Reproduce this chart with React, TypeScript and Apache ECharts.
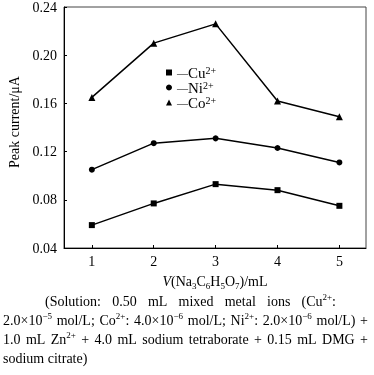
import React, { useEffect, useRef } from "react";
import * as echarts from "echarts";

const FONT = '"Liberation Serif", "Times New Roman", serif';

const xValues = [1, 2, 3, 4, 5];
const cuValues = [0.059, 0.077, 0.093, 0.088, 0.075];
const niValues = [0.105, 0.127, 0.131, 0.123, 0.111];
const coValues = [0.165, 0.21, 0.226, 0.162, 0.149];
const yTicks = { min: 0.04, max: 0.24, interval: 0.04 };

type Seg = [string, string];
type Word = Seg[];

const captionLines: { words: Word[]; justify: boolean }[] = [
  {
    justify: true,
    words: [
      [["n", "(Solution:"]],
      [["n", "0.50"]],
      [["n", "mL"]],
      [["n", "mixed"]],
      [["n", "metal"]],
      [["n", "ions"]],
      [["n", "(Cu"], ["sup", "2+"], ["n", ":"]],
    ],
  },
  {
    justify: true,
    words: [
      [["n", "2.0×10"], ["sup", "−5"]],
      [["n", "mol/L;"]],
      [["n", "Co"], ["sup", "2+"], ["n", ":"]],
      [["n", "4.0×10"], ["sup", "−6"]],
      [["n", "mol/L;"]],
      [["n", "Ni"], ["sup", "2+"], ["n", ":"]],
      [["n", "2.0×10"], ["sup", "−6"]],
      [["n", "mol/L)"]],
      [["n", "+"]],
    ],
  },
  {
    justify: true,
    words: [
      [["n", "1.0"]],
      [["n", "mL"]],
      [["n", "Zn"], ["sup", "2+"]],
      [["n", "+"]],
      [["n", "4.0"]],
      [["n", "mL"]],
      [["n", "sodium"]],
      [["n", "tetraborate"]],
      [["n", "+"]],
      [["n", "0.15"]],
      [["n", "mL"]],
      [["n", "DMG"]],
      [["n", "+"]],
    ],
  },
  {
    justify: false,
    words: [[["n", "sodium"]], [["n", "citrate)"]]],
  },
];

const xTitle: Seg[] = [
  ["i", "V"],
  ["n", "(Na"],
  ["sub", "3"],
  ["n", "C"],
  ["sub", "6"],
  ["n", "H"],
  ["sub", "5"],
  ["n", "O"],
  ["sub", "7"],
  ["n", ")/mL"],
];

const rich: any = {
  n: { fontSize: 14, fontFamily: FONT, lineHeight: 18, verticalAlign: "middle", fill: "#000", color: "#000" },
  i: { fontSize: 14, fontFamily: FONT, fontStyle: "italic", lineHeight: 18, verticalAlign: "middle", fill: "#000", color: "#000" },
  sup: { fontSize: 9, fontFamily: FONT, lineHeight: 9, verticalAlign: "top", fill: "#000", color: "#000" },
  sub: { fontSize: 9, fontFamily: FONT, lineHeight: 9, verticalAlign: "bottom", fill: "#000", color: "#000" },
};

const legendRich: any = {
  n: { fontSize: 15, fontFamily: FONT, lineHeight: 15, verticalAlign: "middle", color: "#000" },
  sup: { fontSize: 10, fontFamily: FONT, lineHeight: 8, verticalAlign: "top", color: "#000" },
  d: { fontSize: 11, fontFamily: FONT, lineHeight: 15, verticalAlign: "middle", color: "#000" },
};

const segFont = (s: string) =>
  s === "i" ? `italic 14px ${FONT}` : s === "sup" || s === "sub" ? `9px ${FONT}` : `14px ${FONT}`;

const toRich = (segs: Seg[]) => segs.map(([s, t]) => `{${s}|${t}}`).join("");

export default function App() {
  const ref = useRef<HTMLDivElement>(null);
  useEffect(() => {
    if (!ref.current) return;
    const chart = echarts.init(ref.current, undefined, { renderer: "svg" });

    const canvas = document.createElement("canvas");
    const ctx = canvas.getContext("2d")!;
    const measure = (segs: Seg[]) =>
      segs.reduce((w, [s, t]) => {
        ctx.font = segFont(s);
        return w + ctx.measureText(t).width;
      }, 0);
    ctx.font = `14px ${FONT}`;
    const spaceW = ctx.measureText(" ").width;

    const lineBoxes = [
      { x0: 45, x1: 336, y: 301 },
      { x0: 3, x1: 368, y: 320 },
      { x0: 3, x1: 368, y: 339 },
      { x0: 3, x1: 368, y: 358 },
    ];

    const captionGraphics: any[] = [];
    captionLines.forEach((line, li) => {
      const box = lineBoxes[li];
      const widths = line.words.map((w) => measure(w));
      const total = widths.reduce((a, b) => a + b, 0);
      const gap = line.justify && line.words.length > 1
        ? (box.x1 - box.x0 - total) / (line.words.length - 1)
        : spaceW;
      let x = box.x0;
      line.words.forEach((w, wi) => {
        captionGraphics.push({
          type: "text",
          x,
          y: box.y,
          style: { text: toRich(w), rich, align: "left", verticalAlign: "middle" },
        });
        x += widths[wi] + gap;
      });
    });

    const axisLabelStyle = { fontFamily: FONT, fontSize: 14, color: "#000" };

    chart.setOption({
      animation: false,
      grid: {
        left: 64,
        top: 5,
        right: 8,
        bottom: 127,
        show: true,
        borderColor: "#444",
        borderWidth: 1,
      },
      legend: {
        orient: "vertical",
        left: 166,
        top: 65,
        padding: 0,
        itemWidth: 6,
        itemHeight: 6,
        itemGap: 0,
        selectedMode: false,
        data: [
          { name: "Cu2+", icon: "rect" },
          { name: "Ni2+", icon: "circle" },
          { name: "Co2+", icon: "triangle" },
        ],
        formatter: (name: string) => `{d|—}{n|${name.replace("2+", "")}}{sup|2+}`,
        textStyle: { rich: legendRich, fontFamily: FONT, fontSize: 14, color: "#000", lineHeight: 15 },
      },
      xAxis: {
        type: "value",
        min: 0.55,
        max: 5.43,
        axisLine: { show: true, lineStyle: { color: "#000", width: 1 } },
        axisTick: { show: true, inside: true, length: 3, customValues: xValues, lineStyle: { color: "#000" } },
        axisLabel: { ...axisLabelStyle, margin: 6, customValues: xValues },
        splitLine: { show: false },
      },
      yAxis: {
        type: "value",
        min: yTicks.min,
        max: yTicks.max,
        interval: yTicks.interval,
        axisLine: { show: true, lineStyle: { color: "#000", width: 1 } },
        axisTick: { show: true, inside: true, length: 3, lineStyle: { color: "#000" } },
        axisLabel: { ...axisLabelStyle, margin: 7, formatter: (v: number) => v.toFixed(2) },
        splitLine: { show: false },
      },
      series: [
        {
          name: "Cu2+",
          type: "line",
          data: xValues.map((x, i) => [x, cuValues[i]]),
          symbol: "rect",
          symbolSize: 6,
          lineStyle: { color: "#000", width: 1.5 },
          itemStyle: { color: "#000" },
        },
        {
          name: "Ni2+",
          type: "line",
          data: xValues.map((x, i) => [x, niValues[i]]),
          symbol: "circle",
          symbolSize: 6,
          lineStyle: { color: "#000", width: 1.5 },
          itemStyle: { color: "#000" },
        },
        {
          name: "Co2+",
          type: "line",
          data: xValues.map((x, i) => [x, coValues[i]]),
          symbol: "triangle",
          symbolSize: 7,
          lineStyle: { color: "#000", width: 1.5 },
          itemStyle: { color: "#000" },
        },
      ],
      graphic: [
        {
          type: "text",
          x: 14,
          y: 122,
          rotation: Math.PI / 2,
          style: { text: "Peak current/μA", font: `14px ${FONT}`, fill: "#000", align: "center", verticalAlign: "middle" },
        },
        {
          type: "text",
          x: 215,
          y: 281,
          style: { text: toRich(xTitle), rich, align: "center", verticalAlign: "middle" },
        },
        ...captionGraphics,
      ],
    });
    return () => chart.dispose();
  }, []);
  return <div ref={ref} style={{ position: "fixed", left: 0, top: 0, width: 374, height: 375 }} />;
}
